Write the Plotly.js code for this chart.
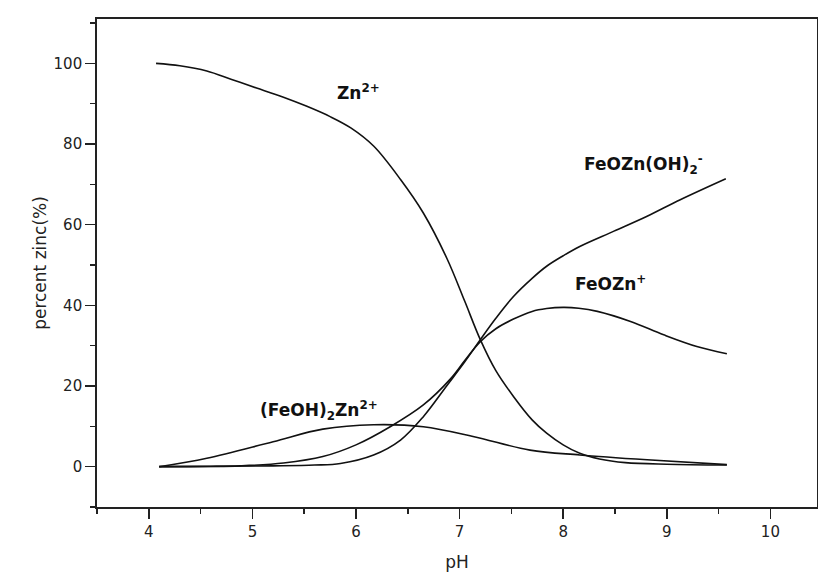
<!DOCTYPE html>
<html>
<head>
<meta charset="utf-8">
<script src="https://cdn.plot.ly/plotly-3.0.1.min.js"></script>
<style>html,body{margin:0;padding:0;background:#fff;}#chart{width:818px;height:577px;}</style>
</head>
<body>
<div id="chart"></div>
<script>
// pH values and percent zinc for each species
const znX = [4.07, 4.3, 4.56, 4.8, 5.04, 5.3, 5.52, 5.75, 5.95, 6.17, 6.43, 6.65, 6.88, 7.05, 7.2, 7.35, 7.52, 7.7, 7.84, 8.0, 8.16, 8.35, 8.6, 9.0, 9.58];
const znY = [100, 99.4, 98.1, 96.0, 93.9, 91.6, 89.4, 86.8, 84.0, 79.5, 71.2, 62.9, 51.5, 41.0, 31.5, 23.8, 17.4, 11.6, 8.3, 5.4, 3.3, 1.9, 1.0, 0.6, 0.4];

const feoznX = [4.1, 4.6, 4.88, 5.3, 5.68, 6.0, 6.33, 6.65, 6.91, 7.05, 7.2, 7.35, 7.52, 7.7, 7.84, 8.0, 8.15, 8.33, 8.65, 8.97, 9.29, 9.58];
const feoznY = [0, 0.05, 0.2, 0.9, 2.5, 5.4, 9.9, 15.3, 21.7, 26.3, 31, 34.2, 36.6, 38.5, 39.2, 39.5, 39.3, 38.5, 36.0, 32.7, 29.8, 28.0];

const feoznohX = [4.1, 5.2, 5.6, 5.85, 6.17, 6.43, 6.65, 6.88, 7.05, 7.2, 7.35, 7.52, 7.7, 7.84, 8.0, 8.16, 8.49, 8.81, 9.13, 9.57];
const feoznohY = [0, 0.2, 0.4, 0.8, 2.9, 6.6, 12.4, 20.2, 26.0, 31.5, 36.8, 42.2, 46.7, 49.7, 52.3, 54.6, 58.4, 62.1, 66.2, 71.4];

const feohznX = [4.1, 4.56, 5.2, 5.68, 6.17, 6.65, 7.13, 7.68, 8.16, 8.81, 9.58];
const feohznY = [0, 2.1, 6.2, 9.3, 10.4, 9.9, 7.5, 4.1, 2.9, 1.7, 0.5];

const labels = ["Zn<sup>2+</sup>", "FeOZn<sup>+</sup>", "FeOZn(OH)<sub>2</sub><sup>-</sup>", "(FeOH)<sub>2</sub>Zn<sup>2+</sup>"];
const labelX = [6.02, 8.46, 8.78, 5.64];
const labelY = [93, 45.6, 74.9, 14];

const xTicks = [4, 5, 6, 7, 8, 9, 10];
const yTicks = [0, 20, 40, 60, 80, 100];

const lineStyle = {color: '#111', width: 1.6, shape: 'spline', smoothing: 1};
const series = [[znX, znY], [feoznX, feoznY], [feoznohX, feoznohY], [feohznX, feohznY]];
const traces = series.map((s, i) => ({
  x: s[0], y: s[1], type: 'scatter', mode: 'lines', line: lineStyle,
  name: labels[i], showlegend: false, hoverinfo: 'skip'
}));

const font = {family: '"DejaVu Sans", Verdana, sans-serif', color: '#222'};

const layout = {
  width: 818, height: 577,
  margin: {l: 97, r: 1, t: 19, b: 70, pad: 0},
  paper_bgcolor: '#fff', plot_bgcolor: '#fff',
  showlegend: false,
  xaxis: {
    range: [3.5, 10.45], tickvals: xTicks, ticktext: xTicks.map(String),
    ticks: 'outside', ticklen: 10, tickwidth: 1.6, tickcolor: '#222',
    minor: {dtick: 0.5, tick0: 0, ticks: 'outside', ticklen: 5, tickwidth: 1.6, tickcolor: '#222', showgrid: false},
    showline: true, linecolor: '#222', linewidth: 1.8, mirror: true,
    showgrid: false, zeroline: false,
    tickfont: Object.assign({size: 15}, font),
    title: {text: 'pH', font: Object.assign({size: 17}, font), standoff: 16}
  },
  yaxis: {
    range: [-10, 111], tickvals: yTicks, ticktext: yTicks.map(String),
    ticks: 'outside', ticklen: 10, tickwidth: 1.6, tickcolor: '#222',
    minor: {dtick: 10, tick0: 0, ticks: 'outside', ticklen: 5, tickwidth: 1.6, tickcolor: '#222', showgrid: false},
    showline: true, linecolor: '#222', linewidth: 1.8, mirror: true,
    showgrid: false, zeroline: false,
    tickfont: Object.assign({size: 15}, font),
    title: {text: 'percent zinc(%)', font: Object.assign({size: 17}, font), standoff: 3}
  },
  annotations: labels.map((t, i) => ({
    x: labelX[i], y: labelY[i], xref: 'x', yref: 'y', text: t, showarrow: false,
    font: {family: '"DejaVu Sans", Verdana, sans-serif', size: 17, color: '#111', weight: 'bold'}
  }))
};

Plotly.newPlot('chart', traces, layout, {staticPlot: true, displayModeBar: false});
</script>
</body>
</html>
